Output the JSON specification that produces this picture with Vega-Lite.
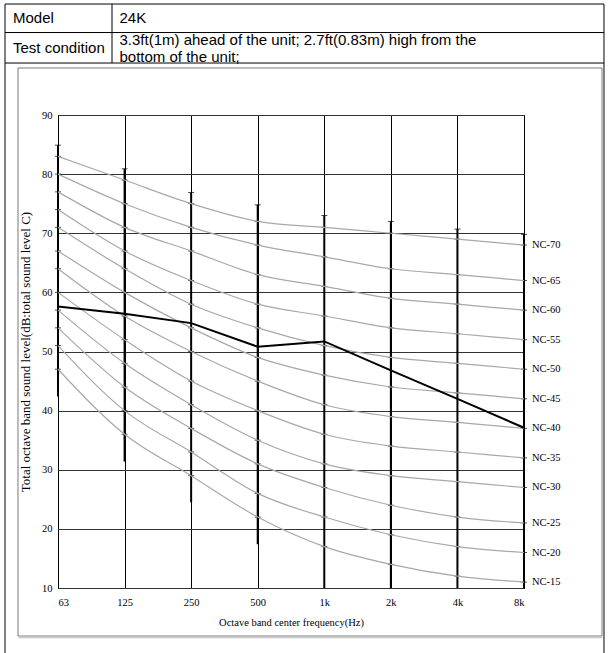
{
  "$schema": "https://vega.github.io/schema/vega-lite/v6.json",
  "width": 466,
  "height": 473,
  "autosize": {"type": "none"},
  "padding": {"left": 58, "top": 115, "right": 85, "bottom": 65},
  "background": "white",
  "config": {
    "view": {"stroke": "black", "strokeWidth": 1},
    "axis": {
      "labelFont": "Liberation Serif",
      "titleFont": "Liberation Serif",
      "labelColor": "black",
      "titleColor": "black",
      "titleFontWeight": "normal",
      "domain": false,
      "ticks": false,
      "gridColor": "#333333",
      "gridOpacity": 1,
      "gridWidth": 1
    }
  },
  "datasets": {
    "nc": [
      {"nc": "NC-15", "i": 0, "v": 47}, {"nc": "NC-15", "i": 1, "v": 36}, {"nc": "NC-15", "i": 2, "v": 29}, {"nc": "NC-15", "i": 3, "v": 22}, {"nc": "NC-15", "i": 4, "v": 17}, {"nc": "NC-15", "i": 5, "v": 14}, {"nc": "NC-15", "i": 6, "v": 12}, {"nc": "NC-15", "i": 7, "v": 11},
      {"nc": "NC-20", "i": 0, "v": 51}, {"nc": "NC-20", "i": 1, "v": 40}, {"nc": "NC-20", "i": 2, "v": 33}, {"nc": "NC-20", "i": 3, "v": 26}, {"nc": "NC-20", "i": 4, "v": 22}, {"nc": "NC-20", "i": 5, "v": 19}, {"nc": "NC-20", "i": 6, "v": 17}, {"nc": "NC-20", "i": 7, "v": 16},
      {"nc": "NC-25", "i": 0, "v": 54}, {"nc": "NC-25", "i": 1, "v": 44}, {"nc": "NC-25", "i": 2, "v": 37}, {"nc": "NC-25", "i": 3, "v": 31}, {"nc": "NC-25", "i": 4, "v": 27}, {"nc": "NC-25", "i": 5, "v": 24}, {"nc": "NC-25", "i": 6, "v": 22}, {"nc": "NC-25", "i": 7, "v": 21},
      {"nc": "NC-30", "i": 0, "v": 57}, {"nc": "NC-30", "i": 1, "v": 48}, {"nc": "NC-30", "i": 2, "v": 41}, {"nc": "NC-30", "i": 3, "v": 35}, {"nc": "NC-30", "i": 4, "v": 31}, {"nc": "NC-30", "i": 5, "v": 29}, {"nc": "NC-30", "i": 6, "v": 28}, {"nc": "NC-30", "i": 7, "v": 27},
      {"nc": "NC-35", "i": 0, "v": 60}, {"nc": "NC-35", "i": 1, "v": 52}, {"nc": "NC-35", "i": 2, "v": 45}, {"nc": "NC-35", "i": 3, "v": 40}, {"nc": "NC-35", "i": 4, "v": 36}, {"nc": "NC-35", "i": 5, "v": 34}, {"nc": "NC-35", "i": 6, "v": 33}, {"nc": "NC-35", "i": 7, "v": 32},
      {"nc": "NC-40", "i": 0, "v": 64}, {"nc": "NC-40", "i": 1, "v": 56}, {"nc": "NC-40", "i": 2, "v": 50}, {"nc": "NC-40", "i": 3, "v": 45}, {"nc": "NC-40", "i": 4, "v": 41}, {"nc": "NC-40", "i": 5, "v": 39}, {"nc": "NC-40", "i": 6, "v": 38}, {"nc": "NC-40", "i": 7, "v": 37},
      {"nc": "NC-45", "i": 0, "v": 67}, {"nc": "NC-45", "i": 1, "v": 60}, {"nc": "NC-45", "i": 2, "v": 54}, {"nc": "NC-45", "i": 3, "v": 49}, {"nc": "NC-45", "i": 4, "v": 46}, {"nc": "NC-45", "i": 5, "v": 44}, {"nc": "NC-45", "i": 6, "v": 43}, {"nc": "NC-45", "i": 7, "v": 42},
      {"nc": "NC-50", "i": 0, "v": 71}, {"nc": "NC-50", "i": 1, "v": 64}, {"nc": "NC-50", "i": 2, "v": 58}, {"nc": "NC-50", "i": 3, "v": 54}, {"nc": "NC-50", "i": 4, "v": 51}, {"nc": "NC-50", "i": 5, "v": 49}, {"nc": "NC-50", "i": 6, "v": 48}, {"nc": "NC-50", "i": 7, "v": 47},
      {"nc": "NC-55", "i": 0, "v": 74}, {"nc": "NC-55", "i": 1, "v": 67}, {"nc": "NC-55", "i": 2, "v": 62}, {"nc": "NC-55", "i": 3, "v": 58}, {"nc": "NC-55", "i": 4, "v": 56}, {"nc": "NC-55", "i": 5, "v": 54}, {"nc": "NC-55", "i": 6, "v": 53}, {"nc": "NC-55", "i": 7, "v": 52},
      {"nc": "NC-60", "i": 0, "v": 77}, {"nc": "NC-60", "i": 1, "v": 71}, {"nc": "NC-60", "i": 2, "v": 67}, {"nc": "NC-60", "i": 3, "v": 63}, {"nc": "NC-60", "i": 4, "v": 61}, {"nc": "NC-60", "i": 5, "v": 59}, {"nc": "NC-60", "i": 6, "v": 58}, {"nc": "NC-60", "i": 7, "v": 57},
      {"nc": "NC-65", "i": 0, "v": 80}, {"nc": "NC-65", "i": 1, "v": 75}, {"nc": "NC-65", "i": 2, "v": 71}, {"nc": "NC-65", "i": 3, "v": 68}, {"nc": "NC-65", "i": 4, "v": 66}, {"nc": "NC-65", "i": 5, "v": 64}, {"nc": "NC-65", "i": 6, "v": 63}, {"nc": "NC-65", "i": 7, "v": 62},
      {"nc": "NC-70", "i": 0, "v": 83}, {"nc": "NC-70", "i": 1, "v": 79}, {"nc": "NC-70", "i": 2, "v": 75}, {"nc": "NC-70", "i": 3, "v": 72}, {"nc": "NC-70", "i": 4, "v": 71}, {"nc": "NC-70", "i": 5, "v": 70}, {"nc": "NC-70", "i": 6, "v": 69}, {"nc": "NC-70", "i": 7, "v": 68}
    ],
    "meas": [
      {"i": 0, "band": "63", "v": 57.6}, {"i": 1, "band": "125", "v": 56.4}, {"i": 2, "band": "250", "v": 54.8}, {"i": 3, "band": "500", "v": 50.8},
      {"i": 4, "band": "1k", "v": 51.7}, {"i": 5, "band": "2k", "v": 46.8}, {"i": 6, "band": "4k", "v": 42.0}, {"i": 7, "band": "8k", "v": 37.1}
    ],
    "range": [
      {"i": 0, "lo": 42.4, "hi": 84.9}, {"i": 1, "lo": 31.4, "hi": 80.9}, {"i": 2, "lo": 24.5, "hi": 76.9}, {"i": 3, "lo": 17.4, "hi": 74.8},
      {"i": 4, "lo": 10, "hi": 73.0}, {"i": 5, "lo": 10, "hi": 72.0}, {"i": 6, "lo": 10, "hi": 70.7}, {"i": 7, "lo": 10, "hi": 69.8}
    ]
  },
  "layer": [
    {
      "data": {"values": [{}]},
      "mark": {"type": "rect", "fill": "transparent", "stroke": "black", "strokeWidth": 1},
      "encoding": {
        "x": {"datum": -0.7961, "type": "quantitative", "scale": {"domain": [0, 7], "nice": false, "zero": false}, "axis": {"values": [0, 1, 2, 3, 4, 5, 6, 7], "labelExpr": "['63','125','250','500','1k','2k','4k','8k'][datum.value]", "title": "Octave band center frequency(Hz)", "labelFontSize": 10.5, "titleFontSize": 10.5, "labelPadding": 9, "titlePadding": 10, "grid": true, "gridColor": "black"}},
        "x2": {"datum": 8.2017},
        "y": {"datum": 108.77, "type": "quantitative", "scale": {"domain": [10, 90], "nice": false, "zero": false}, "axis": {"values": [10, 20, 30, 40, 50, 60, 70, 80, 90], "title": "Total octave band sound level(dB:total sound level C)", "labelFontSize": 10.5, "titleFontSize": 13, "labelPadding": 6, "titlePadding": 9, "grid": true}},
        "y2": {"datum": -3}
      }
    },
    {
      "data": {"values": [{}]},
      "mark": {"type": "rule", "color": "black", "strokeWidth": 1},
      "encoding": {"x": {"datum": -0.7961, "type": "quantitative"}, "x2": {"datum": 8.2017}, "y": {"datum": 103.95, "type": "quantitative"}}
    },
    {
      "data": {"values": [{}]},
      "mark": {"type": "rule", "color": "black", "strokeWidth": 1},
      "encoding": {"x": {"datum": -0.7961, "type": "quantitative"}, "x2": {"datum": 8.2017}, "y": {"datum": 98.79, "type": "quantitative"}}
    },
    {
      "data": {"values": [{}]},
      "mark": {"type": "rule", "color": "black", "strokeWidth": 1},
      "encoding": {"x": {"datum": 0.8112, "type": "quantitative"}, "y": {"datum": 108.77, "type": "quantitative"}, "y2": {"datum": 98.79}}
    },
    {
      "data": {"values": [{}]},
      "mark": {"type": "rect", "fill": "transparent", "stroke": "#7a7a7a", "strokeWidth": 1},
      "encoding": {"x": {"datum": -0.6009, "type": "quantitative"}, "x2": {"datum": 8.1717}, "y": {"datum": 97.95, "type": "quantitative"}, "y2": {"datum": 1.88}}
    },
    {
      "data": {"values": [{}]},
      "mark": {"type": "rule", "color": "#c8c8c8", "strokeWidth": 1.5},
      "encoding": {"x": {"datum": -0.59, "type": "quantitative"}, "x2": {"datum": 8.18}, "y": {"datum": 1.62, "type": "quantitative"}}
    },
    {
      "data": {"values": [
        {"t": "Model", "c": "a", "r": "r1"},
        {"t": "24K", "c": "b", "r": "r1"},
        {"t": "Test condition", "c": "a", "r": "r2"},
        {"t": "3.3ft(1m) ahead of  the unit; 2.7ft(0.83m) high from the", "c": "b", "r": "r2a"},
        {"t": "bottom of the unit;", "c": "b", "r": "r2b"}
      ]},
      "transform": [
        {"lookup": "c", "from": {"data": {"values": [{"c": "a", "cx": -0.676}, {"c": "b", "cx": 0.9238}]}, "key": "c", "fields": ["cx"]}},
        {"lookup": "r", "from": {"data": {"values": [{"r": "r1", "ry": 106.49}, {"r": "r2", "ry": 101.28}, {"r": "r2a", "ry": 102.75}, {"r": "r2b", "ry": 99.85}]}, "key": "r", "fields": ["ry"]}}
      ],
      "mark": {"type": "text", "align": "left", "baseline": "middle", "font": "Liberation Sans", "fontSize": 15, "color": "black"},
      "encoding": {
        "x": {"field": "cx", "type": "quantitative"},
        "y": {"field": "ry", "type": "quantitative"},
        "text": {"field": "t"}
      }
    },
    {
      "data": {"name": "range"},
      "mark": {"type": "rule", "color": "black", "strokeWidth": 2},
      "encoding": {"x": {"field": "i", "type": "quantitative"}, "y": {"field": "lo", "type": "quantitative"}, "y2": {"field": "hi"}}
    },
    {
      "data": {"name": "range"},
      "mark": {"type": "tick", "color": "black", "orient": "horizontal", "size": 6, "thickness": 1},
      "encoding": {"x": {"field": "i", "type": "quantitative"}, "y": {"field": "hi", "type": "quantitative"}}
    },
    {
      "data": {"name": "nc"},
      "mark": {"type": "tick", "color": "black", "orient": "horizontal", "size": 6, "thickness": 1},
      "encoding": {"x": {"field": "i", "type": "quantitative"}, "y": {"field": "v", "type": "quantitative"}}
    },
    {
      "data": {"name": "nc"},
      "mark": {"type": "line", "color": "#a8a8a8", "strokeWidth": 1.2, "interpolate": "monotone"},
      "encoding": {"x": {"field": "i", "type": "quantitative"}, "y": {"field": "v", "type": "quantitative"}, "detail": {"field": "nc"}}
    },
    {
      "data": {"name": "nc"},
      "transform": [{"filter": "datum.i == 7"}],
      "mark": {"type": "text", "align": "left", "baseline": "middle", "dx": 8, "font": "Liberation Serif", "fontSize": 10.5, "color": "black"},
      "encoding": {"x": {"field": "i", "type": "quantitative"}, "y": {"field": "v", "type": "quantitative"}, "text": {"field": "nc"}}
    },
    {
      "data": {"name": "meas"},
      "mark": {"type": "line", "color": "black", "strokeWidth": 2},
      "encoding": {"x": {"field": "i", "type": "quantitative"}, "y": {"field": "v", "type": "quantitative"}}
    }
  ]
}
